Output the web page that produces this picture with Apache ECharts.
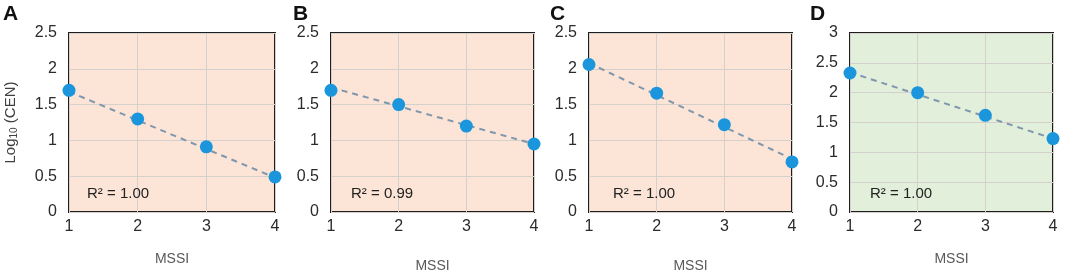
<!DOCTYPE html>
<html>
<head>
<meta charset="utf-8">
<script src="https://cdn.jsdelivr.net/npm/echarts@6/dist/echarts.min.js"></script>
<style>
  html, body { margin: 0; padding: 0; background: #fff; }
  #main { width: 1065px; height: 276px; }
</style>
</head>
<body>
<div id="main"></div>
<script>
// MSSI levels (x)
const mssi = [1, 2, 3, 4];
// Log10(CEN) per panel
const valuesA = [1.70, 1.30, 0.91, 0.49];
const valuesB = [1.70, 1.50, 1.20, 0.95];
const valuesC = [2.06, 1.66, 1.22, 0.70];
const valuesD = [2.33, 2.00, 1.62, 1.23];
// trend line ends (x = 1 and x = 4)
const trendX = [1, 4];
const trendA = [1.68, 0.48];
const trendB = [1.74, 0.95];
const trendC = [2.08, 0.74];
const trendD = [2.34, 1.23];
const panelLetters = ['A', 'B', 'C', 'D'];
const r2Labels = ['R² = 1.00', 'R² = 0.99', 'R² = 1.00', 'R² = 1.00'];
const yMax = [2.5, 2.5, 2.5, 3];

const panels = [
  {left: 69, right: 275, bg: '#FCE4D6', values: valuesA, trend: trendA, nameGap: 40},
  {left: 331, right: 534, bg: '#FCE4D6', values: valuesB, trend: trendB, nameGap: 47},
  {left: 589, right: 792, bg: '#FCE4D6', values: valuesC, trend: trendC, nameGap: 47},
  {left: 850, right: 1053, bg: '#E2EFDA', values: valuesD, trend: trendD, nameGap: 40}
];
const letterX = [3, 293, 550, 810];
const r2X = [87, 351, 613, 870];

let chart = echarts.init(document.getElementById('main'));

const grid = [], xAxis = [], yAxis = [], series = [], graphic = [];
panels.forEach(function (p, i) {
  grid.push({
    left: p.left, top: 33, width: p.right - p.left, height: 179,
    outerBoundsMode: 'none', containLabel: false,
    show: true, backgroundColor: p.bg, borderColor: '#1e1e1e', borderWidth: 2
  });
  xAxis.push({
    type: 'value', gridIndex: i, min: 1, max: 4, interval: 1,
    name: 'MSSI', nameLocation: 'middle', nameGap: p.nameGap,
    nameTextStyle: {color: '#595959', fontSize: 14, fontFamily: 'Liberation Sans'},
    axisLine: {show: false}, axisTick: {show: false},
    axisLabel: {color: '#2b2b2b', fontSize: 16, margin: 7, fontFamily: 'Liberation Sans'},
    splitLine: {show: true, lineStyle: {color: '#d6d0cc', width: 1}}
  });
  yAxis.push({
    type: 'value', gridIndex: i, min: 0, max: yMax[i], interval: 0.5,
    name: i === 0 ? 'Log{sub|10} (CEN)' : '', nameLocation: 'middle', nameGap: 50,
    nameTextStyle: {
      color: '#404040', fontSize: 15, fontFamily: 'Liberation Sans',
      rich: {sub: {fontSize: 10, color: '#404040', verticalAlign: 'bottom', padding: [6, 0, 0, 0]}}
    },
    axisLine: {show: false}, axisTick: {show: false},
    axisLabel: {color: '#2b2b2b', fontSize: 16, margin: 12, fontFamily: 'Liberation Sans'},
    splitLine: {show: true, lineStyle: {color: '#d6d0cc', width: 1}}
  });
  series.push({
    type: 'line', xAxisIndex: i, yAxisIndex: i,
    data: trendX.map(function (x, k) { return [x, p.trend[k]]; }),
    showSymbol: false, silent: true,
    lineStyle: {color: '#7f97ae', width: 2, type: [6, 5]}, z: 2
  });
  series.push({
    type: 'scatter', xAxisIndex: i, yAxisIndex: i, clip: false,
    data: mssi.map(function (x, k) { return [x, p.values[k]]; }),
    symbolSize: 13, itemStyle: {color: '#1b96dc', opacity: 1}, z: 3
  });
  graphic.push({
    type: 'text', left: letterX[i], top: 4,
    style: {text: panelLetters[i], font: 'bold 21px "Liberation Sans"', fill: '#111'}
  });
  graphic.push({
    type: 'text', left: r2X[i], top: 186, z: 10,
    style: {text: r2Labels[i], font: '15px "Liberation Sans"', fill: '#222'}
  });
});

chart.setOption({
  animation: false,
  grid: grid,
  xAxis: xAxis,
  yAxis: yAxis,
  series: series,
  graphic: graphic
});
</script>
</body>
</html>
